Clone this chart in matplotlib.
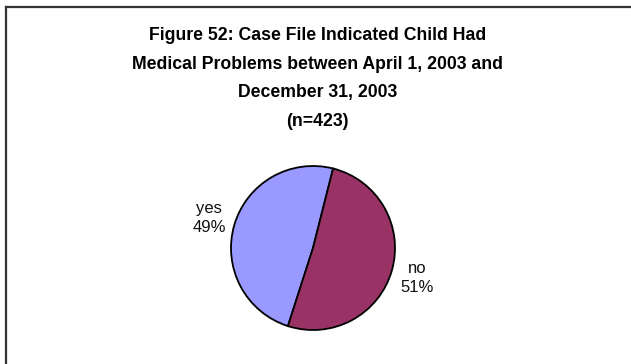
import matplotlib
matplotlib.use("Agg")
import matplotlib.pyplot as plt
from matplotlib.lines import Line2D

plt.rcParams['font.family'] = ['Liberation Sans', 'DejaVu Sans']

title = ("Figure 52: Case File Indicated Child Had\n"
         "Medical Problems between April 1, 2003 and\n"
         "December 31, 2003\n(n=423)")
categories = ["yes", "no"]
values = [49, 51]
colors = ["#9999FF", "#993366"]

W, H = 631, 364
fig = plt.figure(figsize=(W / 100, H / 100), dpi=100)
fig.patch.set_facecolor("white")

# border lines (top and left only visible)
fig.add_artist(Line2D([5.5 / W, 5.5 / W], [0, 1 - 6.5 / H], color="#333333", lw=1.6))
fig.add_artist(Line2D([5.5 / W, 1], [1 - 6.5 / H, 1 - 6.5 / H], color="#333333", lw=1.6))

fig.text(0.5 * (W + 4) / W, 1 - 27 / H, title, ha="center", va="top",
         fontsize=12.7, fontweight="bold", linespacing=1.9)

# pie axes: center (313, 248), radius 82
cx, cy, r = 313, 248, 82
ax = fig.add_axes([(cx - r) / W, 1 - (cy + r) / H, 2 * r / W, 2 * r / H])
labels = [f"{c}\n{v}%" for c, v in zip(categories, values)]
wedges, texts = ax.pie(values, labels=labels, colors=colors, startangle=75.8,
                       counterclock=True, labeldistance=1.32,
                       wedgeprops=dict(edgecolor="black", linewidth=1.3),
                       textprops=dict(fontsize=12, color="#111111"))
for t in texts:
    t.set_ha("center")
    t.set_va("center")
    t.set_linespacing(1.3)
ax.set_xlim(-1, 1)
ax.set_ylim(-1, 1)
ax.set_aspect("equal")

fig.savefig("out.png", dpi=100)
